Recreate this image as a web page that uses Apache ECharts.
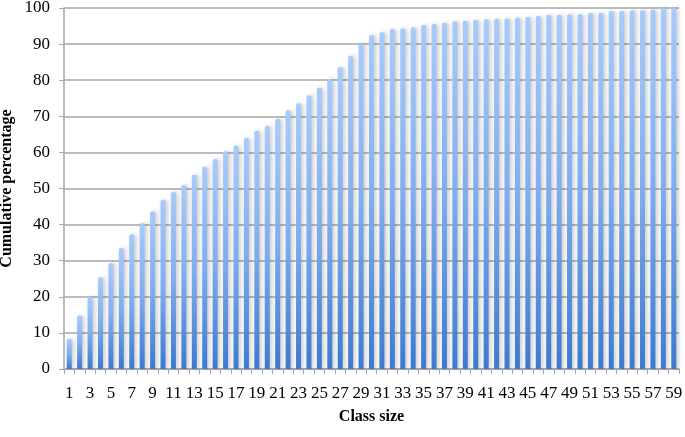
<!DOCTYPE html>
<html>
<head>
<meta charset="utf-8">
<script src="https://cdn.jsdelivr.net/npm/echarts@6/dist/echarts.min.js"></script>
<style>
  html, body { margin: 0; padding: 0; background: #fff; }
  #chart { width: 685px; height: 437px; }
</style>
</head>
<body>
<div id="chart"></div>
<script>
// class sizes 1..59
const classSizes = []
for (let i = 1; i <= 59; i++) classSizes.push(String(i))

// cumulative percentage
const cumulative = [
  8.4, 14.8, 20.0, 25.4, 29.3, 33.5, 37.3, 40.4, 43.7, 46.9,
  49.0, 51.0, 53.8, 56.0, 58.2, 60.3, 61.9, 64.0, 66.0, 67.3,
  69.3, 71.7, 73.6, 75.8, 77.9, 80.3, 83.6, 86.8, 90.1, 92.5,
  93.3, 94.2, 94.4, 94.7, 95.3, 95.6, 95.9, 96.3, 96.5, 96.7,
  96.9, 97.0, 97.1, 97.3, 97.5, 97.8, 98.1, 98.1, 98.3, 98.3,
  98.6, 98.7, 99.2, 99.2, 99.4, 99.4, 99.6, 99.9, 100.0
]

const yTicks = { min: 0, max: 100, interval: 10 }

const serif = '"Liberation Serif", "DejaVu Serif", serif'
const gridGray = '#a6a6a6'

const myChart = echarts.init(document.getElementById('chart'))
myChart.setOption({
  animation: false,
  backgroundColor: '#fff',
  grid: { left: 64, right: 6, top: 8, bottom: 68, outerBoundsMode: 'none', containLabel: false },
  xAxis: {
    type: 'category',
    data: classSizes,
    name: 'Class size',
    nameLocation: 'middle',
    nameGap: 40,
    nameTextStyle: { fontFamily: serif, fontWeight: 'bold', fontSize: 16, color: '#000' },
    axisLine: { lineStyle: { color: gridGray, width: 1.5 } },
    axisTick: { show: true, interval: 0, length: 5, lineStyle: { color: gridGray } },
    axisLabel: { interval: 1, margin: 16, fontFamily: serif, fontSize: 17, color: '#000' }
  },
  yAxis: {
    type: 'value',
    min: yTicks.min,
    max: yTicks.max,
    interval: yTicks.interval,
    name: 'Cumulative percentage',
    nameLocation: 'middle',
    nameGap: 49,
    nameMoveOverlap: false,
    nameTextStyle: { fontFamily: serif, fontWeight: 'bold', fontSize: 16, color: '#000' },
    axisLine: { show: true, lineStyle: { color: gridGray, width: 1.5 } },
    axisTick: { show: true, length: 5, lineStyle: { color: gridGray } },
    axisLabel: { margin: 14, fontFamily: serif, fontSize: 17, color: '#000' },
    splitLine: { lineStyle: { color: gridGray, width: 1.5 } }
  },
  series: [
    {
      type: 'bar',
      data: cumulative,
      barWidth: 5,
      itemStyle: {
        borderRadius: [2, 2, 0, 0],
        color: new echarts.graphic.LinearGradient(0, 0, 0, 1, [
          { offset: 0, color: '#a8cbfd' },
          { offset: 0.5, color: '#7fadee' },
          { offset: 1, color: '#3c7ad0' }
        ]),
        shadowColor: 'rgba(0,0,0,0.22)',
        shadowBlur: 4,
        shadowOffsetX: 2
      }
    }
  ]
})
</script>
</body>
</html>
